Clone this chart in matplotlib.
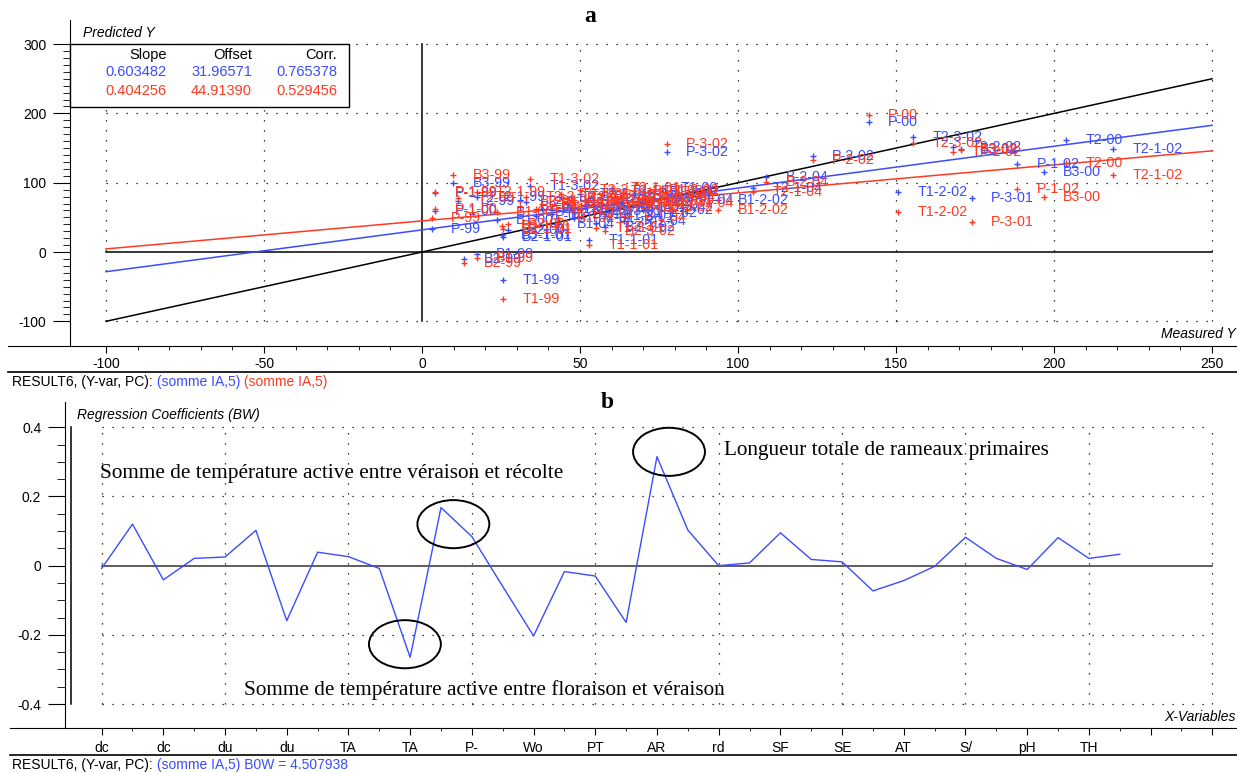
import matplotlib
matplotlib.use('Agg')
import matplotlib.pyplot as plt
from matplotlib.patches import Ellipse, Rectangle
from matplotlib.lines import Line2D
import numpy as np

W, H = 1237, 773
BLUE = '#3b4cff'
RED = '#ff3a22'
DOT = (0, (1, 7))

plt.rcParams['font.family'] = ['Liberation Sans', 'DejaVu Sans']
plt.rcParams['font.size'] = 10
plt.rcParams['axes.unicode_minus'] = False

# ---- panel a : predicted vs measured ----
sample_names = ["P-00", "T2-3-02", "T2-2-02", "B3-02", "P-1-02", "B3-00", "T2-00", "T2-1-02",
                "T1-2-02", "P-3-01", "P-2-02", "B-2-04", "T2-1-04", "B1-2-02", "T1-04", "B3-3-04",
                "T1-00", "P-3-02", "B3-99", "T1-3-02", "P-1-99", "P-1-00", "P-99", "T2-99",
                "B1-99", "B2-99", "T1-99", "B2-1-01", "T1-1-01",
                "T2-1-99", "B1-00", "B2-00", "B3-1-01", "T2-2-99", "B1-1-01", "B2-2-01", "T2-3-01",
                "B3-2-01", "P-2-01", "T2-2-01", "B1-3-01", "B2-3-01", "T1-3-01", "P-1-01", "T1-2-01",
                "T2-1-01", "B3-3-01", "B1-1-02", "B2-1-02", "B3-1-02", "T1-1-02", "B2-2-02", "B1-3-02",
                "P-1-04", "B2-3-02", "T2-04", "B1-04", "P-04", "B2-04"]
measured = [141.3, 155.5, 167.9, 170.5, 188.4, 196.8, 203.7, 218.8,
            150.7, 174.0, 123.6, 108.9, 104.9, 93.8, 80.7, 70.6,
            75.8, 77.4, 9.9, 34.2, 4.1, 4.1, 3.1, 11.5,
            17.3, 13.3, 25.6, 25.6, 52.8,
            17.3, 23.6, 27.3, 25.2, 33, 38, 41, 44,
            46, 48, 50, 52, 54, 55, 57, 58,
            60, 62, 63, 65, 67, 68, 70, 72,
            64, 58, 47, 43, 36, 31]
pred_blue = [188, 166, 152, 149, 127, 115, 162, 148,
             87, 78, 138, 108, 92, 75, 75, 79,
             92, 145, 99, 95, 85, 59, 33, 74,
             -3, -10, -40, 22, 17,
             80, 46, 32, 25, 72, 62, 55, 80,
             70, 49, 84, 66, 59, 42, 76, 52,
             88, 63, 72, 56, 82, 68, 60, 86,
             45, 36, 63, 40, 52, 65]
pred_red = [198, 158, 144, 147, 91, 80, 129, 111,
            58, 43, 133, 101, 87, 61, 71, 77,
            87, 156, 111, 105, 86, 62, 49, 78,
            -9, -16, -68, 33, 10,
            86, 58, 40, 37, 80, 70, 66, 84,
            76, 57, 90, 72, 69, 35, 82, 63,
            92, 74, 78, 67, 88, 73, 65, 90,
            50, 30, 80, 49, 62, 74]
fit_blue = (0.603482, 31.96571, 0.765378)
fit_red = (0.404256, 44.91390, 0.529456)

# ---- panel b : regression coefficients ----
var_labels = ['dc', 'dc', 'du', 'du', 'TA', 'TA', 'P-', 'Wo', 'PT', 'AR',
              'rd', 'SF', 'SE', 'AT', 'S/', 'pH', 'TH', '', '']
coefs = [-0.008, 0.12, -0.041, 0.021, 0.025, 0.102, -0.159, 0.039, 0.026, -0.008,
         -0.265, 0.168, 0.084, -0.06, -0.203, -0.017, -0.030, -0.164, 0.315, 0.103,
         0.0, 0.008, 0.095, 0.018, 0.011, -0.073, -0.043, -0.002, 0.082, 0.021,
         -0.011, 0.081, 0.021, 0.033]


def fx(px):
    return px / W


def fy(py):
    return 1 - py / H


fig = plt.figure(figsize=(W / 100, H / 100), dpi=100)

# ================= panel a =================
ax = fig.add_axes([fx(8), fy(346), (1237 - 8) / W, (346 - 20) / H])
ax.set_xlim(-131.0, 257.9)
ax.set_ylim(-135.6, 334.8)
ax.spines['top'].set_visible(False)
ax.spines['right'].set_visible(False)
ax.spines['left'].set_position(('data', -111.4))
ax.set_xticks(range(-100, 251, 50))
ax.set_xticks(range(-100, 251, 10), minor=True)
ax.set_yticks(range(-100, 301, 100))
ax.set_yticks(range(-100, 301, 10), minor=True)
ax.tick_params(axis='x', which='major', length=5, pad=3, labelsize=10)
ax.tick_params(axis='x', which='minor', length=3)
ax.tick_params(axis='y', which='major', length=12, pad=5, labelsize=10)
ax.tick_params(axis='y', which='minor', length=5)

for yv in [300, 200, 100, -100]:
    ax.plot([-100, 250], [yv, yv], color='k', lw=0.9, ls=DOT, zorder=1)
for xv in [-100, -50, 50, 100, 150, 200, 250]:
    ax.plot([xv, xv], [-100, 300], color='k', lw=0.9, ls=DOT, zorder=1)
ax.plot([-100, 250], [0, 0], color='k', lw=1.1, zorder=2)
ax.plot([0, 0], [-100, 300], color='k', lw=1.1, zorder=2)

xs = np.array([-100, 250])
ax.plot(xs, xs, color='k', lw=1.1, zorder=2)
ax.plot(xs, fit_blue[0] * xs + fit_blue[1], color=BLUE, lw=1.1, zorder=3)
ax.plot(xs, fit_red[0] * xs + fit_red[1], color=RED, lw=1.1, zorder=3)

ax.plot(measured, pred_blue, '+', color=BLUE, ms=4, mew=1, zorder=4)
ax.plot(measured, pred_red, '+', color=RED, ms=4, mew=1, zorder=4)
for name, xv, yb, yr in zip(sample_names, measured, pred_blue, pred_red):
    ax.annotate(name, (xv, yb), xytext=(14, 0), textcoords='offset points',
                va='center', fontsize=10.3, color=BLUE, zorder=4)
for name, xv, yb, yr in zip(sample_names, measured, pred_blue, pred_red):
    ax.annotate(name, (xv, yr), xytext=(14, 0), textcoords='offset points',
                va='center', fontsize=10.3, color=RED, zorder=4)

# stats box
ax.add_patch(Rectangle((-111.4, 209), 88.3, 91, fc='white', ec='k', lw=1,
                       zorder=6, clip_on=False))
cols = [167, 252, 337]
rows = [(55, 'k', ['Slope', 'Offset', 'Corr.']),
        (72, BLUE, ['%.6f' % fit_blue[0], '%.5f' % fit_blue[1], '%.6f' % fit_blue[2]]),
        (91, RED, ['%.6f' % fit_red[0], '%.5f' % fit_red[1], '%.6f' % fit_red[2]])]
for py, c, vals in rows:
    for px, v in zip(cols, vals):
        fig.text(fx(px), fy(py), v, color=c, ha='right', va='center', fontsize=10.5, zorder=7)

fig.text(fx(83), fy(33), 'Predicted Y', style='italic', va='center', fontsize=10)
fig.text(fx(1236), fy(334), 'Measured Y', style='italic', ha='right', va='center', fontsize=10)
fig.text(fx(590), fy(17), 'a', family='Liberation Serif', weight='bold', fontsize=17,
         ha='center', va='center')

# ================= panel b =================
bx = fig.add_axes([fx(10), fy(728.3), (1237 - 10) / W, (728.3 - 402) / H])
bx.set_xlim(-2.97, 36.8)
bx.set_ylim(-0.47, 0.473)
bx.spines['top'].set_visible(False)
bx.spines['right'].set_visible(False)
bx.spines['left'].set_position(('data', -1.19))
bx.set_xticks(range(0, 37, 2))
bx.set_xticklabels(var_labels)
bx.set_xticks(range(1, 37, 2), minor=True)
bx.set_yticks([-0.4, -0.2, 0, 0.2, 0.4])
bx.set_yticklabels(['-0.4', '-0.2', '0', '0.2', '0.4'])
bx.set_yticks(np.arange(-0.4, 0.401, 0.05), minor=True)
bx.tick_params(axis='x', which='major', length=5, pad=4, labelsize=10)
bx.tick_params(axis='x', which='minor', length=2.5)
bx.tick_params(axis='y', which='major', length=12, pad=5, labelsize=10)
bx.tick_params(axis='y', which='minor', length=6)

for yv in [0.4, 0.2, -0.2, -0.4]:
    bx.plot([0, 36], [yv, yv], color='k', lw=0.9, ls=DOT, zorder=1)
for xv in range(0, 37, 4):
    bx.plot([xv, xv], [-0.4, 0.4], color='k', lw=0.9, ls=DOT, zorder=1)
bx.plot([0, 36], [0, 0], color='#333333', lw=1.1, zorder=2)
bx.plot([-1, -1], [-0.4, 0.4], color='k', lw=1.1, zorder=2)

bx.plot(range(len(coefs)), coefs, color=BLUE, lw=1, zorder=3)

for cx, cy in [(11.4, 0.12), (9.83, -0.227), (18.39, 0.329)]:
    bx.add_patch(Ellipse((cx, cy), 2.33, 0.139, fill=False, ec='k', lw=1.4, zorder=4))

serif = dict(family='Liberation Serif', fontsize=15.3, va='center')
fig.text(fx(100), fy(474), 'Somme de température active entre véraison et récolte', **serif)
fig.text(fx(244), fy(690), 'Somme de température active entre floraison et véraison', **serif)
fig.text(fx(724), fy(450), 'Longueur totale de rameaux primaires', **serif)

fig.text(fx(77), fy(415), 'Regression Coefficients (BW)', style='italic', va='center', fontsize=10)
fig.text(fx(1236), fy(717), 'X-Variables', style='italic', ha='right', va='center', fontsize=10)
fig.text(fx(607), fy(403), 'b', family='Liberation Serif', weight='bold', fontsize=17,
         ha='center', va='center')

# frame lines under the tick labels
fig.add_artist(Line2D([fx(8), 1], [fy(372), fy(372)], color='k', lw=1.2))
fig.add_artist(Line2D([fx(10), 1], [fy(755), fy(755)], color='k', lw=1.2))

renderer = fig.canvas.get_renderer()


def colored_line(py, parts):
    x = fx(12)
    for s, c in parts:
        t = fig.text(x, fy(py), s, color=c, va='center', fontsize=10)
        bb = t.get_window_extent(renderer)
        x = bb.x1 / W


colored_line(382, [('RESULT6, (Y-var, PC):', 'k'), (' (somme IA,5)', BLUE), (' (somme IA,5)', RED)])
colored_line(765, [('RESULT6, (Y-var, PC):', 'k'), (' (somme IA,5) B0W = 4.507938', BLUE)])

fig.savefig('out.png', dpi=100)
